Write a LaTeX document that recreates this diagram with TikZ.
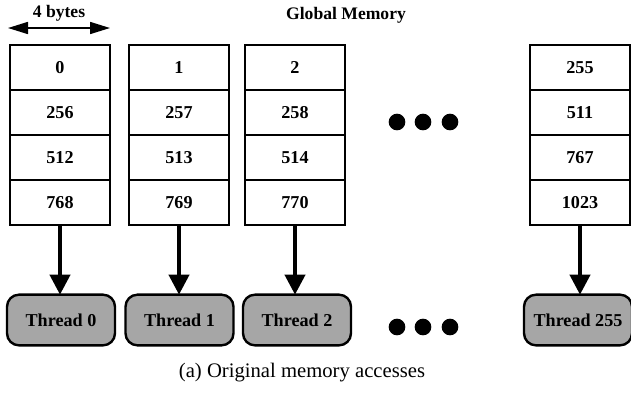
\documentclass[tikz,border=0pt]{standalone}
\usepackage{fontspec}
\setmainfont{Liberation Serif}
\usetikzlibrary{arrows.meta}
\begin{document}
\begin{tikzpicture}[x=0.75pt,y=-0.75pt,
  cell/.style={draw,line width=1.5pt,minimum width=75pt,minimum height=33.75pt,inner sep=0pt,outer sep=0pt,font=\bfseries\fontsize{13.6}{15}\selectfont},
  thread/.style={draw,line width=1.8pt,fill=gray!70,rounded corners=9pt,minimum width=81pt,minimum height=38pt,inner sep=0pt,outer sep=0pt,font=\bfseries\fontsize{13.6}{15}\selectfont},
  acc/.style={line width=3pt,-{Triangle[width=15pt,length=15pt]}},
  bigdot/.style={circle,fill=black,inner sep=0pt,minimum size=12.5pt},
  lbl/.style={font=\bfseries\fontsize{13.2}{15}\selectfont,inner sep=0pt}]
\useasboundingbox (0,0) rectangle (631,393);
% columns
\foreach \c/\x/\a/\b/\cc/\d in {0/60/0/256/512/768, 1/179/1/257/513/769, 2/295/2/258/514/770, 3/580/255/511/767/1023}{
  \node[cell] (m\c r0) at (\x,67.5) {\a};
  \node[cell] (m\c r1) at (\x,112.5) {\b};
  \node[cell] (m\c r2) at (\x,157.5) {\cc};
  \node[cell] (m\c r3) at (\x,202.5) {\d};
}
\node[thread] (t0) at (61,320) {Thread 0};
\node[thread] (t1) at (179.5,320) {Thread 1};
\node[thread] (t2) at (297,320) {Thread 2};
\node[thread] (t3) at (578,320) {Thread 255};
\foreach \c in {0,1,2,3}{
  \draw[acc] (m\c r3.south) -- (m\c r3.south |- t\c.north);
}
% dots
\node[bigdot] (d1) at (397,122) {};
\node[bigdot] (d2) at (423,122) {};
\node[bigdot] (d3) at (450,122) {};
\node[bigdot] (e1) at (397,327) {};
\node[bigdot] (e2) at (423,327) {};
\node[bigdot] (e3) at (450,327) {};
% 4 bytes
\coordinate (bl) at (8,28);
\coordinate (br) at (110,28);
\draw[line width=1.2pt,{Triangle[width=9pt,length=15pt]}-{Triangle[width=9pt,length=15pt]}] (bl) -- (br);
\node[lbl] (fb) at (59,13) {4 bytes};
\node[lbl] (gm) at (346,15) {Global Memory};
\node[font=\fontsize{15.5}{18}\selectfont,inner sep=0pt] (cap) at (302,373) {(a) Original memory accesses};
\end{tikzpicture}
\end{document}
